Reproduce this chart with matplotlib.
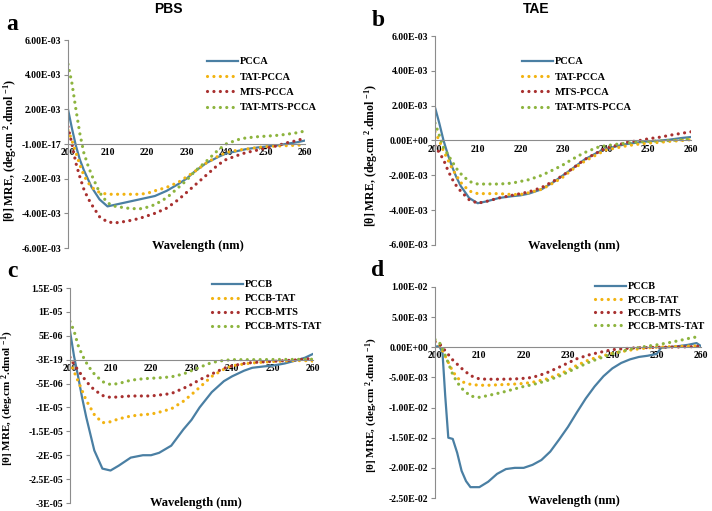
import matplotlib
matplotlib.use("Agg")
import matplotlib.pyplot as plt
from matplotlib.lines import Line2D

plt.rcParams['font.family'] = ['Liberation Serif', 'DejaVu Serif']
plt.rcParams['font.weight'] = 'bold'
plt.rcParams['mathtext.fontset'] = 'custom'
plt.rcParams['mathtext.rm'] = 'Liberation Serif:bold'
plt.rcParams['mathtext.it'] = 'Liberation Serif:bold'
plt.rcParams['mathtext.bf'] = 'Liberation Serif:bold'

# common wavelength grid (nm)
wl = [200, 201, 202, 203, 204, 205, 206, 208, 210, 212, 215, 218, 220, 222, 225,
      228, 230, 232, 235, 238, 240, 243, 245, 248, 250, 253, 255, 258, 260]

# panel a - PBS, PCCA constructs (x1e-3)
a_pcca = [2.0, 0.9, -0.1, -0.9, -1.5, -2.0, -2.5, -3.2, -3.6, -3.5, -3.35, -3.2, -3.1, -3.0, -2.7,
          -2.3, -2.0, -1.6, -1.1, -0.75, -0.55, -0.4, -0.3, -0.2, -0.15, -0.08, 0.0, 0.1, 0.2]
a_tat = [0.8, 0.2, -0.5, -1.2, -1.8, -2.2, -2.5, -2.8, -2.9, -2.9, -2.9, -2.9, -2.85, -2.7, -2.5,
         -2.2, -1.9, -1.6, -1.1, -0.7, -0.5, -0.35, -0.3, -0.2, -0.15, -0.12, -0.1, -0.07, -0.05]
a_mts = [1.0, 0.0, -1.1, -1.9, -2.6, -3.1, -3.5, -4.2, -4.5, -4.55, -4.45, -4.3, -4.15, -4.0, -3.7,
         -3.2, -2.8, -2.4, -1.8, -1.2, -0.9, -0.65, -0.5, -0.35, -0.25, -0.1, 0.05, 0.2, 0.35]
a_tatmts = [4.6, 3.5, 2.0, 0.6, -0.5, -1.2, -1.8, -2.8, -3.4, -3.6, -3.7, -3.75, -3.65, -3.5, -3.1,
            -2.5, -2.1, -1.6, -1.0, -0.35, 0.0, 0.25, 0.35, 0.42, 0.45, 0.5, 0.55, 0.65, 0.75]

# panel b - TAE, PCCA constructs (x1e-3)
b_pcca = [1.9, 1.0, 0.0, -0.8, -1.5, -2.1, -2.6, -3.3, -3.6, -3.5, -3.3, -3.2, -3.15, -3.05, -2.8,
          -2.35, -2.0, -1.65, -1.1, -0.7, -0.5, -0.3, -0.2, -0.1, -0.05, 0.0, 0.05, 0.15, 0.2]
b_tat = [0.5, 0.0, -0.6, -1.1, -1.6, -2.0, -2.4, -2.9, -3.05, -3.05, -3.05, -3.1, -3.1, -3.0, -2.8,
         -2.4, -2.1, -1.7, -1.2, -0.8, -0.55, -0.4, -0.3, -0.2, -0.15, -0.1, -0.05, 0.0, 0.05]
b_mts = [-0.3, -0.7, -1.1, -1.7, -2.2, -2.6, -2.9, -3.4, -3.6, -3.5, -3.3, -3.15, -3.05, -2.95, -2.7,
         -2.3, -2.0, -1.65, -1.1, -0.7, -0.45, -0.25, -0.1, 0.0, 0.1, 0.2, 0.3, 0.42, 0.5]
b_tatmts = [1.0, 0.3, -0.4, -0.8, -1.2, -1.6, -1.9, -2.35, -2.5, -2.5, -2.5, -2.45, -2.35, -2.25, -2.0,
            -1.65, -1.4, -1.1, -0.7, -0.4, -0.3, -0.2, -0.15, -0.08, -0.05, -0.02, 0.0, 0.05, 0.1]

# panel c - PBS, PCCB constructs (x1e-6)
c_pccb = [6.0, 0.7, -3.5, -8.0, -12.0, -15.5, -19.0, -22.8, -23.2, -22.2, -20.5, -20.0, -20.0, -19.5, -18.0,
          -14.6, -12.6, -10.0, -6.8, -4.5, -3.5, -2.3, -1.7, -1.4, -1.25, -0.8, -0.35, 0.4, 1.2]
c_tat = [-0.5, -2.5, -4.5, -6.5, -8.5, -10.0, -11.5, -13.2, -13.0, -12.4, -11.8, -11.5, -11.4, -11.0, -10.3,
         -8.7, -7.3, -5.8, -3.5, -2.0, -1.3, -0.9, -0.7, -0.5, -0.4, -0.3, -0.2, -0.2, -0.3]
c_mts = [0.5, -1.0, -2.2, -3.4, -4.5, -5.5, -6.3, -7.5, -7.9, -7.8, -7.6, -7.6, -7.6, -7.4, -7.1,
         -6.0, -5.2, -4.2, -3.0, -1.8, -1.3, -0.8, -0.6, -0.45, -0.35, -0.2, -0.1, 0.1, 0.3]
c_mtstat = [8.0, 6.0, 3.0, 1.0, -0.6, -1.9, -3.0, -4.6, -5.2, -5.0, -4.3, -4.0, -3.9, -3.8, -3.6,
            -3.0, -2.3, -1.6, -0.6, -0.15, 0.0, 0.0, 0.0, 0.02, 0.03, 0.05, 0.05, 0.08, 0.1]

# panel d - TAE, PCCB constructs (x1e-3)
d_wl = [200, 201, 201.7, 202.3, 203, 204, 205, 206, 207, 208, 210, 212, 214, 216, 218, 220, 222, 224,
        226, 228, 230, 232, 234, 236, 238, 240, 242, 244, 246, 248, 250, 251, 253, 255, 257, 259, 260]
d_pccb = [0.1, 0.2, -1.0, -8.0, -15.0, -15.2, -17.5, -20.5, -22.2, -23.2, -23.2, -22.3, -21.0, -20.2,
          -20.0, -20.0, -19.5, -18.7, -17.3, -15.3, -13.2, -10.8, -8.5, -6.5, -4.8, -3.5, -2.6, -2.0,
          -1.6, -1.4, -1.1, -0.1, 0.05, 0.2, 0.4, 0.7, 0.2]
d_tat = [1.0, 0.5, -1.0, -2.5, -4.0, -5.0, -5.7, -6.15, -6.3, -6.3, -6.2, -6.1, -6.0, -5.8, -5.3,
         -4.5, -3.8, -3.0, -2.0, -1.4, -1.0, -0.6, -0.35, -0.1, 0.0, 0.1, 0.15, 0.2, 0.25]
d_mts = [0.9, 0.6, -0.3, -1.2, -2.1, -2.8, -3.5, -4.7, -5.25, -5.3, -5.3, -5.25, -5.15, -5.0, -4.3,
         -3.3, -2.6, -1.9, -1.2, -0.7, -0.4, -0.2, -0.1, -0.05, 0.0, 0.03, 0.05, 0.1, 0.2]
d_mtstat = [1.3, 0.8, -0.8, -2.6, -4.5, -5.8, -6.8, -8.1, -8.3, -8.0, -7.5, -6.9, -6.5, -6.2, -5.6,
            -4.8, -4.1, -3.4, -2.4, -1.6, -1.1, -0.5, -0.15, 0.2, 0.4, 0.8, 1.1, 1.6, 1.8]

labels_pcca = ['PCCA', 'TAT-PCCA', 'MTS-PCCA', 'TAT-MTS-PCCA']
labels_pccb = ['PCCB', 'PCCB-TAT', 'PCCB-MTS', 'PCCB-MTS-TAT']

ticks_a = ['6.00E-03', '4.00E-03', '2.00E-03', '-1.00E-17', '-2.00E-03', '-4.00E-03', '-6.00E-03']
ticks_b = ['6.00E-03', '4.00E-03', '2.00E-03', '0.00E+00', '-2.00E-03', '-4.00E-03', '-6.00E-03']
ticks_c = ['1.5E-05', '1E-05', '5E-06', '-3E-19', '-5E-06', '-1E-05', '-1.5E-05', '-2E-05',
           '-2.5E-05', '-3E-05']
ticks_d = ['1.00E-02', '5.00E-03', '0.00E+00', '-5.00E-03', '-1.00E-02', '-1.50E-02', '-2.00E-02',
           '-2.50E-02']

COLORS = ['#4a7fa3', '#f2b311', '#a8302f', '#8db43e']
DOTS = (0, (0.01, 2.0))
W, H = 712, 511


def fig_box(left, top, right, bottom):
    return [left / W, 1 - bottom / H, (right - left) / W, (bottom - top) / H]


def draw_panel(fig, box, series, xs_list, labels, scale, ylim, yticks, ticklabels, leg_xy, spacing):
    ax = fig.add_axes(fig_box(*box))
    handles = []
    for i, (xs, ys) in enumerate(zip(xs_list, series)):
        ys = [v * scale for v in ys]
        if i == 0:
            ax.plot(xs, ys, color=COLORS[i], lw=1.6)
            handles.append(Line2D([], [], color=COLORS[i], lw=1.6))
        else:
            ax.plot(xs, ys, color=COLORS[i], lw=2.3, linestyle=DOTS, dash_capstyle='round')
            handles.append(Line2D([], [], color=COLORS[i], lw=2.3, linestyle=DOTS,
                                  dash_capstyle='round'))
    ax.set_xlim(200, 260)
    ax.set_ylim(*ylim)
    ax.set_xticks(range(200, 261, 10))
    ax.set_yticks(yticks)
    ax.set_yticklabels(ticklabels)
    ax.spines['top'].set_visible(False)
    ax.spines['right'].set_visible(False)
    ax.spines['left'].set_color('#8c8c8c')
    ax.spines['bottom'].set_color('#8c8c8c')
    ax.spines['bottom'].set_position(('data', 0))
    ax.tick_params(axis='y', length=3, color='#8c8c8c', labelsize=7, pad=2)
    ax.tick_params(axis='x', length=0, labelsize=7, pad=3)
    ax.patch.set_alpha(0)
    ax.legend(handles, labels, loc='upper left',
              bbox_to_anchor=(leg_xy[0] / W, 1 - leg_xy[1] / H),
              bbox_transform=fig.transFigure, frameon=False, fontsize=7.5,
              handlelength=3.0, handletextpad=0.2, labelspacing=spacing,
              borderpad=0, borderaxespad=0)
    return ax


def main():
    fig = plt.figure(figsize=(W / 100, H / 100), dpi=100)
    ylab = '[θ] MRE, (deg.cm $^{2}$.dmol $^{-1}$)'

    draw_panel(fig, (68, 40, 305, 248), [a_pcca, a_tat, a_mts, a_tatmts], [wl] * 4,
               labels_pcca, 1e-3, (-6e-3, 6e-3), [6e-3, 4e-3, 2e-3, 0, -2e-3, -4e-3, -6e-3],
               ticks_a, (207, 57), 0.58)
    draw_panel(fig, (435, 36, 691, 245), [b_pcca, b_tat, b_mts, b_tatmts], [wl] * 4,
               labels_pcca, 1e-3, (-6e-3, 6e-3), [6e-3, 4e-3, 2e-3, 0, -2e-3, -4e-3, -6e-3],
               ticks_b, (522, 57), 0.58)
    draw_panel(fig, (70, 288, 313, 503), [c_pccb, c_tat, c_mts, c_mtstat], [wl] * 4,
               labels_pccb, 1e-6, (-3e-5, 1.5e-5),
               [1.5e-5, 1e-5, 5e-6, 0, -5e-6, -1e-5, -1.5e-5, -2e-5, -2.5e-5, -3e-5],
               ticks_c, (212, 280), 0.45)
    draw_panel(fig, (435, 287, 701, 498), [d_pccb, d_tat, d_mts, d_mtstat], [d_wl, wl, wl, wl],
               labels_pccb, 1e-3, (-2.5e-2, 1e-2),
               [1e-2, 5e-3, 0, -5e-3, -1e-2, -1.5e-2, -2e-2, -2.5e-2],
               ticks_d, (595, 282), 0.38)

    for x, y, txt in [(198, 246, 'Wavelength (nm)'), (574, 246, 'Wavelength (nm)'),
                      (196, 503, 'Wavelength (nm)'), (574, 501, 'Wavelength (nm)')]:
        fig.text(x / W, 1 - y / H, txt, ha='center', va='center', fontsize=9)
    for x, y, size in [(10, 150, 8.5), (371, 155, 8.5), (8, 398, 8), (372, 405, 8)]:
        fig.text(x / W, 1 - y / H, ylab, rotation=90, ha='center', va='center', fontsize=size)
    for x, y, txt in [(168, 9, 'PBS'), (536, 9, 'TAE')]:
        fig.text(x / W, 1 - y / H, txt, ha='center', va='center', fontsize=10,
                 family='Liberation Sans', weight='bold')
    for x, y, txt in [(12, 24, 'a'), (378, 21, 'b'), (12, 271, 'c'), (378, 270, 'd')]:
        fig.text(x / W, 1 - y / H, txt, ha='center', va='center', fontsize=17)

    fig.savefig('out.png', dpi=100)


if __name__ == '__main__':
    main()
